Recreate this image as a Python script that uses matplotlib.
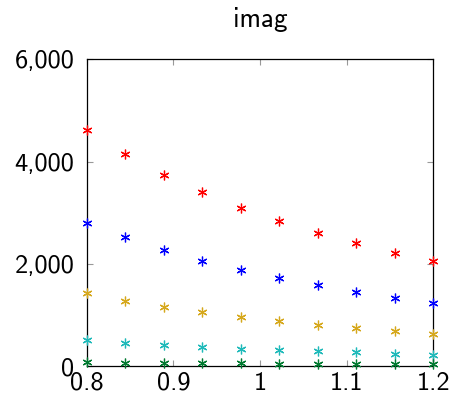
import matplotlib
matplotlib.use('Agg')
import matplotlib.pyplot as plt
from matplotlib.ticker import FuncFormatter

plt.rcParams['font.family'] = ['cmss10', 'DejaVu Sans']
plt.rcParams['axes.formatter.use_mathtext'] = False

# sample points along x
x = [0.8, 0.8444, 0.8889, 0.9333, 0.9778, 1.0222, 1.0667, 1.1111, 1.1556, 1.2]

# imaginary parts, one list per series
red = [4610, 4140, 3745, 3400, 3100, 2833, 2605, 2398, 2215, 2058]
blue = [2801, 2521, 2267, 2058, 1876, 1714, 1577, 1452, 1335, 1237]
orange = [1433, 1277, 1153, 1055, 952, 879, 801, 736, 684, 631]
cyan = [508, 456, 404, 365, 339, 313, 287, 267, 240, 215]
green = [72, 66, 61, 56, 52, 48, 45, 42, 39, 36]

series = [red, blue, orange, cyan, green]
colors = ['#ff0000', '#0000ff', '#d6a81c', '#1fbaba', '#007a30']

fig = plt.figure(figsize=(4.53, 3.98), dpi=100)
ax = fig.add_axes([0.192, 0.0804, 0.764, 0.7706])

for ys, c in zip(series, colors):
    ax.plot(x, ys, linestyle='none', marker=(6, 2, 0), markersize=7,
            markeredgewidth=0.9, color=c, clip_on=False, zorder=3)

ax.set_xlim(0.8, 1.2)
ax.set_ylim(0, 6000)
ax.set_xticks([0.8, 0.9, 1.0, 1.1, 1.2])
ax.set_xticklabels(['0.8', '0.9', '1', '1.1', '1.2'])
ax.set_yticks([0, 2000, 4000, 6000])
ax.yaxis.set_major_formatter(FuncFormatter(lambda v, p: f'{int(v):,}'))

ax.tick_params(direction='in', length=4, width=0.8, color='#999999',
               top=True, right=True, labelsize=19)
ax.tick_params(axis='x', pad=4)
ax.tick_params(axis='y', pad=9)
for s in ax.spines.values():
    s.set_linewidth(0.9)
    s.set_color('black')

ax.set_title('imag', fontsize=19.5, pad=23)

fig.savefig('out.png', dpi=100)
